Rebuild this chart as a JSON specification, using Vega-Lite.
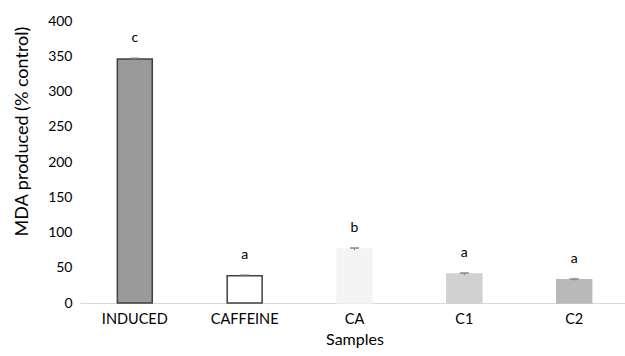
{
  "$schema": "https://vega.github.io/schema/vega-lite/v6.json",
  "autosize": "none",
  "width": 549,
  "height": 282,
  "padding": {"left": 80, "top": 21, "right": 0, "bottom": 53},
  "background": "white",
  "config": {
    "view": {"stroke": null},
    "font": "Lato",
    "axis": {"labelFont": "Lato", "titleFont": "Lato", "labelColor": "#000000", "titleColor": "#000000", "titleFontWeight": "normal", "grid": false},
    "axisY": {
      "titleFontSize": 18,
      "titleX": -58,
      "titleY": 110,
      "titleAngle": -90,
      "titleAlign": "center",
      "titleBaseline": "middle",
      "labelFontSize": 14,
      "labelPadding": 8,
      "labelOverlap": false,
      "domain": false,
      "ticks": false
    }
  },
  "data": {
    "values": [
      {"sample": "INDUCED", "mda": 346, "sd": 1.0, "letter": "c"},
      {"sample": "CAFFEINE", "mda": 38.5, "sd": 1.0, "letter": "a"},
      {"sample": "CA", "mda": 76.5, "sd": 1.5, "letter": "b"},
      {"sample": "C1", "mda": 41, "sd": 1.5, "letter": "a"},
      {"sample": "C2", "mda": 33, "sd": 1.2, "letter": "a"}
    ]
  },
  "transform": [
    {"calculate": "datum.mda - datum.sd", "as": "lo"},
    {"calculate": "datum.mda + datum.sd", "as": "hi"}
  ],
  "encoding": {
    "x": {
      "field": "sample",
      "type": "nominal",
      "sort": null,
      "scale": {"paddingInner": 0.682, "paddingOuter": 0.34},
      "axis": {
        "title": "Samples",
        "titleFontSize": 16,
        "titlePadding": 6,
        "labelFontSize": 14.5,
        "labelAngle": 0,
        "labelPadding": 9,
        "ticks": false,
        "domainColor": "#d9d9d9",
        "domainWidth": 1
      }
    }
  },
  "layer": [
    {
      "mark": {"type": "bar", "strokeWidth": 1.5},
      "encoding": {
        "y": {
          "field": "mda",
          "type": "quantitative",
          "scale": {"domain": [0, 400]},
          "axis": {"title": "MDA produced (% control)", "values": [0, 50, 100, 150, 200, 250, 300, 350, 400]}
        },
        "color": {
          "field": "sample",
          "type": "nominal",
          "scale": {
            "domain": ["INDUCED", "CAFFEINE", "CA", "C1", "C2"],
            "range": ["#9a9a9a", "#ffffff", "#f3f4f3", "#d0d1d0", "#b9b9b9"]
          },
          "legend": null
        },
        "stroke": {
          "field": "sample",
          "type": "nominal",
          "scale": {
            "domain": ["INDUCED", "CAFFEINE", "CA", "C1", "C2"],
            "range": ["#404040", "#404040", "#f3f4f3", "#d0d1d0", "#b9b9b9"]
          },
          "legend": null
        }
      }
    },
    {
      "mark": {"type": "rule", "color": "#808080", "strokeWidth": 1},
      "encoding": {
        "y": {"field": "lo", "type": "quantitative", "axis": {"title": "MDA produced (% control)", "values": [0, 50, 100, 150, 200, 250, 300, 350, 400]}},
        "y2": {"field": "hi"}
      }
    },
    {
      "mark": {"type": "tick", "color": "#808080", "thickness": 2, "size": 9},
      "encoding": {
        "y": {"field": "hi", "type": "quantitative", "axis": {"title": "MDA produced (% control)", "values": [0, 50, 100, 150, 200, 250, 300, 350, 400]}}
      }
    },
    {
      "mark": {"type": "text", "fontSize": 14, "baseline": "middle", "dy": -21, "color": "#000000"},
      "encoding": {
        "y": {"field": "mda", "type": "quantitative", "axis": {"title": "MDA produced (% control)", "values": [0, 50, 100, 150, 200, 250, 300, 350, 400]}},
        "text": {"field": "letter"}
      }
    }
  ]
}
